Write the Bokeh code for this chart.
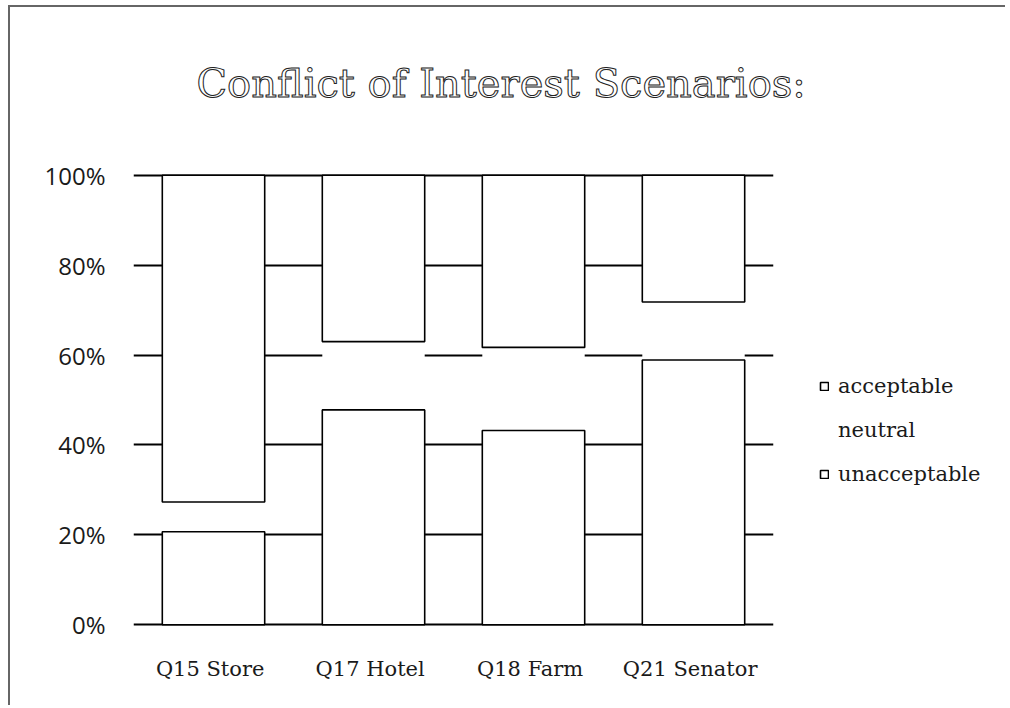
import numpy as np
from bokeh.plotting import figure
from bokeh.layouts import column, row
from bokeh.models import (Range1d, NumeralTickFormatter, Legend, LegendItem, Label,
                          ColumnDataSource)
from bokeh.embed import file_html
from bokeh.resources import INLINE

# ---- data ----
categories = ["Q15  Store", "Q17  Hotel", "Q18  Farm", "Q21  Senator"]
unacceptable = [0.207, 0.478, 0.432, 0.589]
neutral = [0.066, 0.152, 0.185, 0.129]
acceptable = [0.727, 0.370, 0.383, 0.282]
y_ticks = [0, 0.2, 0.4, 0.6, 0.8, 1.0]
series_names = ["acceptable", "neutral", "unacceptable"]
title_text = "Conflict of Interest Scenarios:"

# stacked positions
b_un = [0.0] * len(categories)
t_un = [b + v for b, v in zip(b_un, unacceptable)]
t_ne = [b + v for b, v in zip(t_un, neutral)]
t_ac = [b + v for b, v in zip(t_ne, acceptable)]

src = ColumnDataSource(dict(cat=categories, b_un=b_un, t_un=t_un, t_ne=t_ne, t_ac=t_ac))

BAR = dict(fill_color="white", line_color="black", line_width=1.6)
NEU = dict(fill_color="white", line_color=None)
TXT = "#1a1a1a"

# ---------------- title strip ----------------
tf = figure(width=995, height=150, x_axis_type=None, y_axis_type=None,
            output_backend="svg", toolbar_location=None, min_border=0,
            outline_line_color=None, background_fill_color="white",
            border_fill_color="white")
tf.grid.visible = False
title = Label(x=186, y=75, x_units="screen", y_units="screen", text=title_text,
              text_font="DejaVu Serif", text_font_size="40px", text_color="white",
              text_align="left", text_baseline="alphabetic")
title.text_outline_color = "#222222"
tf.add_layout(title)

# ---------------- main chart ----------------
p = figure(x_range=categories, y_range=Range1d(-0.004, 1.004),
           width=768, height=548, output_backend="svg", toolbar_location=None,
           min_border_left=123, min_border_right=5, min_border_top=16,
           min_border_bottom=79, background_fill_color="white",
           border_fill_color="white", outline_line_color=None)

W = 0.64
r_ne = p.vbar(x="cat", bottom="t_un", top="t_ne", width=W, source=src, **NEU)
r_un = p.vbar(x="cat", bottom="b_un", top="t_un", width=W, source=src, **BAR)
r_ac = p.vbar(x="cat", bottom="t_ne", top="t_ac", width=W, source=src, **BAR)

p.xgrid.grid_line_color = None
p.ygrid.grid_line_color = "black"
p.ygrid.grid_line_width = 2
p.yaxis.ticker = y_ticks
p.yaxis.formatter = NumeralTickFormatter(format="0%")

for ax in (p.xaxis, p.yaxis):
    ax.axis_line_color = None
    ax.major_tick_line_color = None
    ax.minor_tick_line_color = None
    ax.major_tick_out = 0
    ax.major_tick_in = 0

p.yaxis.major_label_text_font = "Open Sans"
p.yaxis.major_label_text_font_size = "24px"
p.yaxis.major_label_text_color = TXT
p.yaxis.major_label_standoff = 28

p.xaxis.major_label_text_font = "DejaVu Serif"
p.xaxis.major_label_text_font_size = "21px"
p.xaxis.major_label_text_color = TXT
p.xaxis.major_label_standoff = 30

# ---------------- legend strip ----------------
lg = figure(width=227, height=548, x_axis_type=None, y_axis_type=None,
            output_backend="svg", toolbar_location=None, min_border=0,
            outline_line_color=None, background_fill_color="white",
            border_fill_color="white")
lg.grid.visible = False
styles = {"acceptable": BAR, "neutral": NEU, "unacceptable": BAR}
items = []
for name in series_names:
    # legend proxy: one undefined (NaN) bar, never drawn in the strip
    r = lg.vbar(x=np.array([np.nan]), top=np.array([np.nan]), width=0.5, **styles[name])
    items.append(LegendItem(label=name, renderers=[r]))

legend = Legend(items=items, location=(41, 140), orientation="vertical",
                glyph_width=10, glyph_height=10, label_height=20, spacing=20,
                label_standoff=9, padding=0, margin=0,
                border_line_color=None, background_fill_alpha=0,
                label_text_font="DejaVu Serif", label_text_font_size="21px",
                label_text_color=TXT)
lg.add_layout(legend)

layout = column(tf, row(p, lg))
layout.styles = {"margin-left": "8px", "margin-top": "5px",
                 "border-top": "2px solid #666", "border-left": "2px solid #666"}

open("out.html", "w").write(file_html(layout, INLINE))
